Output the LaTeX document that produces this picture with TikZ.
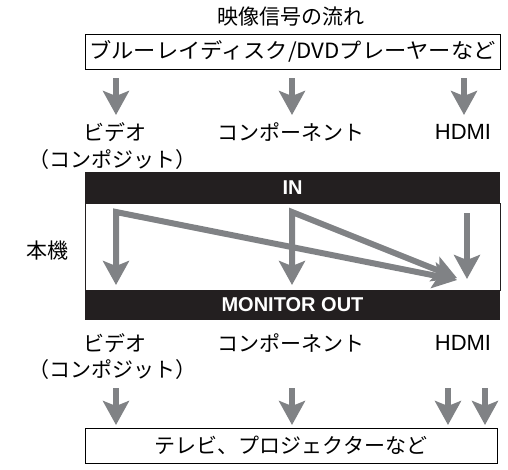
\documentclass[tikz,border=0pt]{standalone}
\usepackage{fontspec}
\setmainfont{Noto Sans CJK JP}
\newfontfamily\barfont{Liberation Sans}
\usetikzlibrary{arrows.meta, positioning, calc}
\definecolor{flowc}{HTML}{808285}
\definecolor{barc}{HTML}{231F20}

\begin{document}
\begin{tikzpicture}[x=1pt, y=-1pt, font=\fontsize{21}{25}\selectfont,
      box/.style={draw, line width=0.9pt, minimum height=35pt, inner sep=0pt},
      bar/.style={fill=barc, minimum width=415pt, inner sep=0pt, text=white,
                  font=\barfont\bfseries\fontsize{20}{22}\selectfont},
      unit/.style={draw=barc, line width=0.7pt, minimum width=415pt, minimum height=87pt},
      lbl/.style={inner sep=0pt},
      hdmi/.style={inner sep=0pt, font=\barfont\fontsize{22}{24}\selectfont},
      flow/.style={-{Stealth[length=24pt, width=26pt, inset=5pt]}, draw=flowc,
                   line width=6pt}]
    \useasboundingbox (0,0) rectangle (508,469);
    \node[lbl] (title) at (291,17) {映像信号の流れ};
    \node[box, minimum width=415pt] (src) at (292.5,51.5)
      {\scalebox{1.06}[1]{ブルーレイディスク/DVDプレーヤーなど}};
    % input labels
    \node[lbl] (vidin) at (115,132) {ビデオ};
    \node[lbl] (cmpin) at (112,160) {（コンポジット）};
    \node[lbl] (compin) at (291,132) {コンポーネント};
    \node[hdmi] (hdmiin) at (463,132) {HDMI};
    \foreach \x/\n in {116/a, 292/b, 464/c}{
      \coordinate (s\n) at (\x,78);
      \coordinate (e\n) at (\x,115);
      \draw[flow] (s\n) -- (e\n);}
    % unit
    \node[unit] (body) at (292.5,246.5) {};
    \node[bar, minimum height=31pt] (in) at (292.5,187.5) {IN};
    \node[bar, minimum height=30pt] (mon) at (292.5,305) {MONITOR OUT};
    \node[lbl] (unitlbl) at (47,251) {本機};
    \coordinate (vtop) at (116,212);
    \coordinate (vbot) at (116,285);
    \coordinate (ctop) at (292,212);
    \coordinate (cbot) at (292,285);
    \coordinate (htop) at (467,213);
    \coordinate (hbot) at (467,279);
    \coordinate (vtip) at (457,280);
    \coordinate (ctip) at (457,278);
    \draw[flow, {Stealth[length=24pt, width=26pt, inset=5pt]}-{Stealth[length=24pt, width=26pt, inset=5pt]}]
      (vbot) -- (vtop) -- (vtip);
    \draw[flow, {Stealth[length=24pt, width=26pt, inset=5pt]}-{Stealth[length=24pt, width=26pt, inset=5pt]}]
      (cbot) -- (ctop) -- (ctip);
    \draw[flow] (htop) -- (hbot);
    % output labels
    \node[lbl] (vidout) at (115,343) {ビデオ};
    \node[lbl] (cmpout) at (112,370) {（コンポジット）};
    \node[lbl] (compout) at (291,343) {コンポーネント};
    \node[hdmi] (hdmiout) at (463,343) {HDMI};
    \foreach \x/\n in {116/a, 292/b, 448/c, 485/d}{
      \coordinate (o\n) at (\x,388);
      \coordinate (p\n) at (\x,425);
      \draw[flow] (o\n) -- (p\n);}
    \node[box, minimum width=412pt] (dst) at (291,445.5) {テレビ、プロジェクターなど};
  \end{tikzpicture}
\end{document}
